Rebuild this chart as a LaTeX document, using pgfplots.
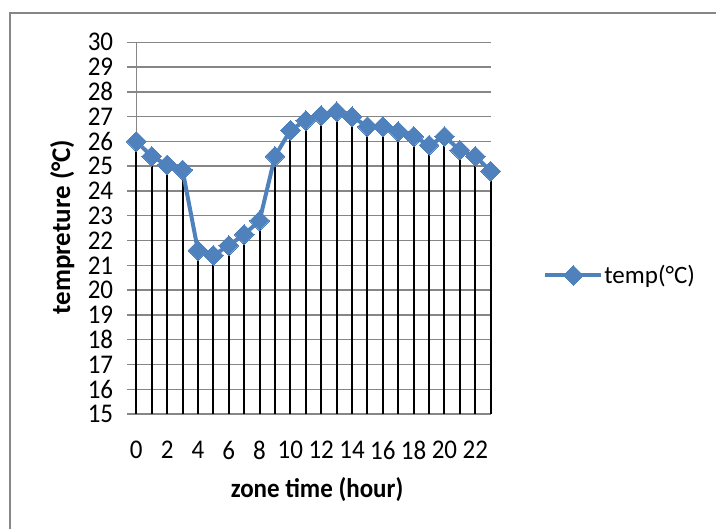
\documentclass[border=0pt]{standalone}
\usepackage{fontspec}
\setmainfont{Carlito}
\usepackage{pgfplots}
\pgfplotsset{compat=1.18}
\definecolor{xlblue}{RGB}{79,129,189}
\definecolor{gridgray}{RGB}{134,134,134}
\begin{document}
\begin{tikzpicture}
\useasboundingbox (0bp,0bp) rectangle (716bp,529bp);
\draw[gridgray, line width=1.2bp] (10bp,0bp) -- (10bp,516bp) -- (716bp,516bp);
\begin{axis}[
  at={(136.3bp,115bp)}, anchor=south west,
  scale only axis, width=354.4bp, height=371.7bp,
  xmin=0, xmax=23, ymin=15, ymax=30,
  axis x line*=bottom, axis y line*=left,
  axis line style={gridgray, line width=1.4bp, -},
  xtick={0,2,...,22}, ytick={15,16,...,30},
  ymajorgrids, grid style={gridgray, line width=1.4bp},
  tick align=outside,
  major tick length=9bp,
  y tick style={gridgray, line width=1.4bp},
  x tick style={draw=none},
  /pgf/number format/assume math mode=true,
  tick label style={font=\fontsize{25bp}{27bp}\selectfont, inner sep=0pt, yscale=1.08},
  yticklabel style={anchor=east, xshift=-14bp},
  xticklabel style={anchor=center, yshift=-25bp},
  xlabel={\textbf{zone time (hour)}},
  ylabel={\textbf{tempreture (°C)}},
  label style={font=\fontsize{25bp}{27bp}\selectfont, inner sep=0pt},
  xlabel style={at={(rel axis cs:0.51,0)}, anchor=center, yshift=-76bp, yscale=1.08},
  ylabel style={at={(rel axis cs:0,0.503)}, anchor=center, yshift=74bp,
    font=\fontsize{27bp}{29bp}\selectfont},
  legend style={at={(rel axis cs:1.148,0.373)}, anchor=west, draw=none, fill=none,
    font=\fontsize{25bp}{27bp}\selectfont, inner sep=0pt,
    nodes={inner sep=1bp}},
  legend cell align=left,
  legend image code/.code={
    \draw[mark repeat=2,mark phase=2,#1] plot coordinates {(0bp,0bp) (28bp,0bp) (56bp,0bp)};},
  clip=false,
]
\addplot[black, line width=2bp, ycomb, forget plot] coordinates {
(0,26.0) (1,25.4) (2,25.05) (3,24.85) (4,21.6) (5,21.4) (6,21.8) (7,22.25)
(8,22.8) (9,25.4) (10,26.45) (11,26.85) (12,27.05) (13,27.2) (14,27.0) (15,26.6)
(16,26.6) (17,26.4) (18,26.2) (19,25.85) (20,26.2) (21,25.65) (22,25.4) (23,24.8)
};
\addplot[xlblue, line width=4bp, mark=square*, mark size=7bp,
  mark options={rotate=45, solid, fill=xlblue, draw=xlblue, line width=0pt}] coordinates {
(0,26.0) (1,25.4) (2,25.05) (3,24.85) (4,21.6) (5,21.4) (6,21.8) (7,22.25)
(8,22.8) (9,25.4) (10,26.45) (11,26.85) (12,27.05) (13,27.2) (14,27.0) (15,26.6)
(16,26.6) (17,26.4) (18,26.2) (19,25.85) (20,26.2) (21,25.65) (22,25.4) (23,24.8)
};
\addlegendentry{temp(°C)}
\end{axis}
\end{tikzpicture}
\end{document}
